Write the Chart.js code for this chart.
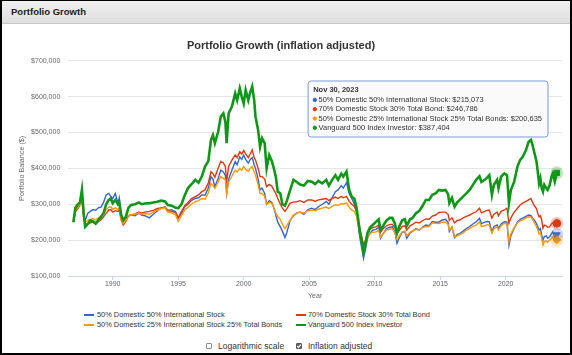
<!DOCTYPE html>
<html>
<head>
<meta charset="utf-8">
<script src="https://cdn.jsdelivr.net/npm/chart.js@4.4.0/dist/chart.umd.min.js"></script>
<style>
html,body{margin:0;padding:0;background:#fff;}
body{position:relative;width:572px;height:355px;overflow:hidden;font-family:"Liberation Sans",Arial,sans-serif;color:#333;}
#frame{position:absolute;left:0;top:0;width:572px;height:355px;box-sizing:border-box;border:2px solid #000;border-top-width:1px;}
#hdr{position:absolute;left:2px;top:1px;width:568px;height:22px;background:linear-gradient(#f0f0f0,#dfdfdf);border-bottom:1px solid #c8c8c8;}
#hdr span{position:absolute;left:9px;top:5px;font-weight:bold;font-size:9.5px;color:#222;}
#chartBox{position:absolute;left:0;top:23px;width:572px;height:282px;}
.lg{position:absolute;font-size:7.4px;line-height:10px;height:10px;white-space:nowrap;color:#333;}
.sw{position:absolute;width:10px;height:2px;}
.cb{position:absolute;font-size:8.5px;line-height:11px;white-space:nowrap;color:#333;}
.box{position:absolute;width:6px;height:6px;box-sizing:border-box;border:1px solid #8a8a8a;background:#fff;border-radius:1px;}
.box.on{background:#666;border-color:#555;}
</style>
</head>
<body>
<div id="frame"></div>
<div id="hdr"><span>Portfolio Growth</span></div>
<div id="chartBox"><canvas id="c"></canvas></div>
<div id="legend"></div>
<div class="box" style="left:205.5px;top:343px;"></div>
<div class="cb" style="left:218px;top:340.5px;">Logarithmic scale</div>
<div class="box on" style="left:296px;top:343px;"><svg width="6" height="6" viewBox="0 0 6 6" style="position:absolute;left:-1px;top:-1px"><path d="M1.2 3.1 L2.5 4.4 L4.9 1.6" stroke="#fff" stroke-width="1.1" fill="none"/></svg></div>
<div class="cb" style="left:308px;top:340.5px;">Inflation adjusted</div>
<script>
const seriesNames = [
  '50% Domestic 50% International Stock',
  '70% Domestic Stock 30% Total Bond',
  '50% Domestic 25% International Stock 25% Total Bonds',
  'Vanguard 500 Index Investor'
];
const seriesColors = ['#3366cc', '#dc3912', '#ff9900', '#109618'];
const endDateLabel = 'Nov 30, 2023';
const xTicks = [1990, 1995, 2000, 2005, 2010, 2015, 2020];
const yTicks = [100000, 200000, 300000, 400000, 500000, 600000, 700000];

// decimal years (dates of sampled points)
const years = [
1987.0,1987.15,1987.35,1987.5,1987.65,1987.8,1987.9,1988.1,1988.3,1988.5,
1988.7,1988.9,1989.1,1989.3,1989.5,1989.7,1989.85,1990.0,1990.2,1990.4,
1990.5,1990.65,1990.8,1991.0,1991.2,1991.4,1991.7,1992.0,1992.2,1992.45,
1992.8,1993.1,1993.4,1993.7,1994.0,1994.2,1994.5,1994.8,1995.0,1995.25,
1995.5,1995.75,1996.0,1996.3,1996.55,1996.8,1997.05,1997.3,1997.5,1997.65,
1997.8,1998.05,1998.25,1998.45,1998.6,1998.7,1998.85,1999.1,1999.35,1999.5,
1999.7,1999.85,2000.0,2000.15,2000.35,2000.5,2000.65,2000.8,2000.9,2001.1,
2001.25,2001.4,2001.6,2001.75,2001.95,2002.15,2002.3,2002.45,2002.6,2002.8,
2002.95,2003.15,2003.3,2003.55,2003.8,2004.05,2004.3,2004.6,2004.9,2005.2,
2005.45,2005.7,2006.0,2006.3,2006.5,2006.75,2007.0,2007.2,2007.45,2007.6,
2007.85,2008.05,2008.25,2008.45,2008.6,2008.75,2008.9,2009.0,2009.15,2009.3,
2009.45,2009.65,2009.85,2010.1,2010.3,2010.45,2010.65,2010.9,2011.15,2011.35,
2011.55,2011.7,2011.9,2012.1,2012.3,2012.45,2012.7,2012.9,2013.15,2013.4,
2013.65,2013.9,2014.15,2014.4,2014.65,2014.9,2015.15,2015.4,2015.6,2015.7,
2015.9,2016.1,2016.3,2016.5,2016.75,2017.0,2017.25,2017.5,2017.75,2018.0,
2018.15,2018.4,2018.6,2018.75,2018.95,2019.1,2019.35,2019.45,2019.65,2019.9,
2020.1,2020.25,2020.4,2020.65,2020.9,2021.1,2021.3,2021.55,2021.75,2021.93,
2022.05,2022.2,2022.35,2022.45,2022.55,2022.65,2022.75,2022.85,2022.95,2023.1,
2023.2,2023.35,2023.5,2023.6,2023.75,2023.91
];

// values in thousands of dollars
const intl5050 = [
250,285,295,305,322,268,255,275,280,285,
283,290,292,305,326,330,322,316,330,303,
318,265,251,262,268,270,268,275,270,268,
262,272,281,289,292,283,285,279,262,275,
293,300,310,316,318,326,325,345,377,370,
349,372,395,390,380,330,370,395,419,410,
432,425,437,425,415,425,430,410,400,370,
340,345,330,300,310,305,290,270,250,237,
225,207,222,256,268,275,278,272,285,289,
285,293,300,308,300,318,335,340,352,345,
360,330,316,300,280,240,200,180,149,175,
205,220,228,230,236,205,218,232,236,237,
222,191,208,222,224,205,220,225,232,228,
236,242,240,252,250,250,256,258,250,224,
236,207,216,218,225,232,238,245,251,261,
246,250,252,251,223,238,242,232,245,251,
250,186,212,233,251,258,261,266,270,268,
262,255,246,237,228,232,214,200,210,212,
205,209,218,223,207,215.073
];
const stock7030 = [
250,280,288,298,312,258,242,246,248,250,
245,252,256,265,275,284,285,278,282,280,
283,255,242,252,268,270,273,278,275,278,
280,283,288,290,292,282,280,277,262,280,
296,305,315,321,326,335,340,360,391,385,
375,400,419,415,405,363,405,423,437,430,
446,440,450,440,430,440,451,430,423,400,
377,377,370,349,355,350,340,330,316,300,
290,280,288,303,306,307,310,305,312,312,
308,312,314,316,310,316,320,316,322,318,
322,308,300,294,282,252,228,212,186,200,
218,230,235,237,242,222,232,240,244,244,
235,218,228,238,240,228,240,244,250,248,
254,259,258,267,270,277,278,278,272,255,
262,248,255,256,262,266,270,275,279,289,
276,280,283,284,261,272,278,268,280,284,
289,247,262,278,289,298,303,308,312,316,
305,295,288,275,265,268,256,233,242,240,
236,237,245,248,238,246.786
];
const mix502525 = [
250,283,292,300,315,262,250,255,258,260,
256,262,266,275,285,292,293,286,290,285,
290,258,246,256,268,270,272,276,272,274,
272,278,284,288,290,278,276,270,252,268,
284,292,300,307,310,316,314,332,358,352,
344,362,377,372,368,330,362,378,395,390,
400,395,405,397,392,400,405,390,381,355,
330,330,322,300,305,303,290,275,265,258,
245,232,242,256,270,275,278,275,282,284,
282,286,289,292,288,294,298,297,302,300,
304,292,284,280,268,240,212,196,172,188,
208,218,222,223,228,208,218,228,231,231,
220,202,213,223,225,212,222,226,230,228,
235,238,238,248,247,246,250,250,244,228,
236,210,212,215,220,228,233,238,242,251,
238,240,243,242,219,232,237,228,240,247,
245,196,218,235,248,254,256,262,265,264,
258,247,238,228,217,220,205,186,196,198,
194,200,205,209,195,200.635
];
const vfinx = [
250,290,300,305,340,268,237,245,255,252,
246,255,265,275,300,312,316,303,312,300,
305,270,256,265,290,298,300,305,300,302,
303,305,307,310,308,298,296,290,289,300,
325,345,355,368,360,377,405,420,479,493,
470,502,544,553,530,470,553,572,609,590,
623,600,581,618,590,612,628,590,544,507,
460,484,470,400,437,420,400,377,335,330,
300,296,310,340,368,362,355,352,365,363,
356,365,358,368,352,368,381,368,385,377,
391,340,321,315,293,256,214,200,165,190,
220,236,242,251,258,228,240,255,262,262,
245,219,240,255,258,240,258,262,275,281,
295,312,312,326,330,340,338,340,328,303,
318,293,305,312,321,330,340,354,368,378,
362,368,375,381,326,354,368,345,377,386,
381,303,340,363,405,423,432,451,474,479,
465,442,420,391,358,372,345,335,354,345,
340,352,377,386,363,387.404
];

const FONT = '"Liberation Sans", Arial, sans-serif';
const seriesValues = [intl5050, stock7030, mix502525, vfinx];
const hoverStyles = [
  {pointStyle:'triangle', rotation:180},
  {pointStyle:'circle', rotation:0},
  {pointStyle:'rectRot', rotation:0},
  {pointStyle:'rect', rotation:0}
];
const widths = [1.4, 1.4, 1.4, 2.6];
const orders = [3, 2, 1, 0];

// HTML legend built from the series names
const legendPos = [[84, 97, 310], [296, 308, 310], [84, 97, 319.5], [296, 308, 319.5]];
const lg = document.getElementById('legend');
seriesNames.forEach((n, i) => {
  const p = legendPos[i];
  const sw = document.createElement('div');
  sw.className = 'sw';
  sw.style.left = p[0] + 'px'; sw.style.top = (p[2] + 4) + 'px';
  sw.style.background = seriesColors[i];
  lg.appendChild(sw);
  const t = document.createElement('div');
  t.className = 'lg';
  t.style.left = p[1] + 'px'; t.style.top = p[2] + 'px';
  t.textContent = n;
  lg.appendChild(t);
});

Chart.Tooltip.positioners.fixedBox = function () {
  const a = this.chart.chartArea;
  return {x: a.right - 17, y: a.top + 20.3};
};

const haloPlugin = {
  id: 'halo',
  afterDatasetsDraw(chart) {
    const ctx = chart.ctx;
    chart.getActiveElements().forEach(a => {
      const el = a.element;
      ctx.save();
      ctx.globalAlpha = 0.25;
      ctx.fillStyle = seriesColors[a.datasetIndex];
      ctx.beginPath();
      ctx.arc(el.x, el.y, 6.5, 0, Math.PI * 2);
      ctx.fill();
      ctx.restore();
    });
  }
};

const datasets = seriesValues.map((vals, i) => ({
  label: seriesNames[i],
  data: years.map((x, k) => ({x: x, y: Math.round(vals[k] * 1000)})),
  borderColor: seriesColors[i],
  backgroundColor: seriesColors[i],
  borderWidth: widths[i],
  tension: 0,
  fill: false,
  pointRadius: 0,
  pointStyle: hoverStyles[i].pointStyle,
  pointRotation: hoverStyles[i].rotation,
  pointHoverRadius: 3.8,
  pointHoverBorderWidth: 1,
  pointHoverBackgroundColor: seriesColors[i],
  pointHoverBorderColor: seriesColors[i],
  order: orders[i]
}));

const chart = new Chart(document.getElementById('c'), {
  type: 'line',
  data: {datasets},
  plugins: [haloPlugin],
  options: {
    responsive: true,
    maintainAspectRatio: false,
    animation: false,
    events: [],
    layout: {padding: {left: 0, right: 10, top: 0, bottom: 0}},
    plugins: {
      legend: {display: false},
      title: {
        display: true,
        text: 'Portfolio Growth (inflation adjusted)',
        color: '#333',
        font: {family: FONT, size: 11, weight: 'bold'},
        padding: {top: 16, bottom: 8.5}
      },
      tooltip: {
        enabled: true,
        position: 'fixedBox',
        xAlign: 'right',
        yAlign: 'top',
        caretSize: 0,
        caretPadding: 0,
        backgroundColor: 'rgba(250,250,250,0.93)',
        borderColor: '#7d9bd6',
        borderWidth: 1,
        cornerRadius: 3,
        titleColor: '#333',
        bodyColor: '#333',
        titleFont: {family: FONT, size: 7.5, weight: 'bold'},
        bodyFont: {family: FONT, size: 7.5},
        padding: {top: 4.7, bottom: 4.7, left: 5, right: 6},
        titleMarginBottom: 0.7,
        bodySpacing: 0.3,
        displayColors: true,
        usePointStyle: true,
        boxWidth: 3.4,
        boxHeight: 3.4,
        boxPadding: 0,
        multiKeyBackground: 'rgba(0,0,0,0)',
        callbacks: {
          title: () => endDateLabel,
          label: ctx => ctx.dataset.label + ': $' + Math.round(ctx.parsed.y).toLocaleString('en-US'),
          labelColor: ctx => ({borderColor: seriesColors[ctx.datasetIndex], backgroundColor: seriesColors[ctx.datasetIndex], borderWidth: 0}),
          labelPointStyle: () => ({pointStyle: 'circle', rotation: 0})
        }
      }
    },
    scales: {
      x: {
        type: 'linear',
        min: 1986.61,
        max: 2024.3,
        afterBuildTicks: s => { s.ticks = xTicks.map(v => ({value: v})); },
        afterFit: s => { s.height = 29; },
        border: {display: true, color: '#ccd6eb', width: 1},
        grid: {drawOnChartArea: false, drawTicks: true, tickLength: 4, color: '#ccd6eb'},
        ticks: {color: '#666', font: {family: FONT, size: 7}, padding: 0, maxRotation: 0, autoSkip: false, callback: v => String(v)},
        title: {display: true, text: 'Year', color: '#666', font: {family: FONT, size: 7}, padding: {top: 0, bottom: 4.8}}
      },
      y: {
        type: 'linear',
        min: 100000,
        max: 700000,
        afterBuildTicks: s => { s.ticks = yTicks.map(v => ({value: v})); },
        afterFit: s => { s.width = 68.3; },
        border: {display: false},
        grid: {drawTicks: false, lineWidth: 1, color: c => (c.tick && c.tick.value === 100000) ? 'rgba(0,0,0,0)' : '#e6e6e6'},
        ticks: {color: '#666', font: {family: FONT, size: 7}, padding: 8, callback: v => '$' + Number(v).toLocaleString('en-US')},
        title: {display: true, text: 'Portfolio Balance ($)', color: '#666', font: {family: FONT, size: 7.2}, padding: {top: 17.8, bottom: 0}}
      }
    }
  }
});

const last = years.length - 1;
const active = seriesNames.map((n, i) => ({datasetIndex: i, index: last}));
chart.tooltip.setActiveElements(active, {x: 0, y: 0});
chart.setActiveElements(active);
chart.update();
</script>
</body>
</html>
